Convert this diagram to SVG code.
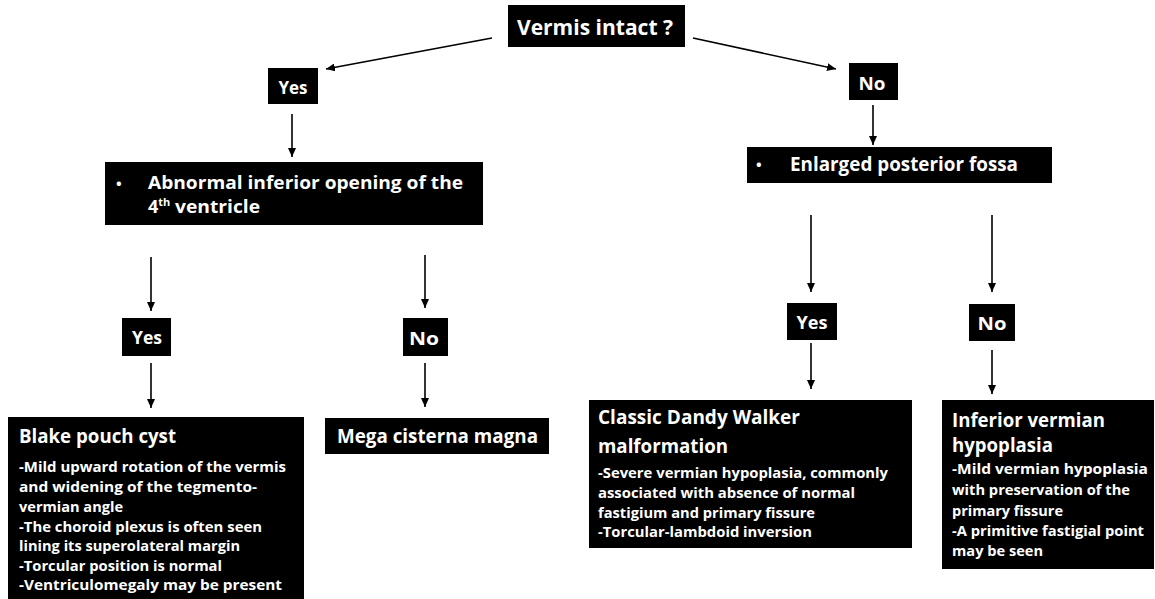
<svg xmlns="http://www.w3.org/2000/svg" width="1155" height="599" viewBox="0 0 1155 599">
<style>
.box{fill:#000}
text{font-family:"Open Sans",Lato,"Liberation Sans",sans-serif;font-weight:bold;fill:#fff}
.lbl{font-size:18px;text-anchor:middle}
.h{font-size:19.5px}
.h2{font-size:18px}
.b{font-size:15px}
.bul{font-size:15px}
.c{stroke:#000;stroke-width:1.6;fill:none;marker-end:url(#ah)}
</style>
<defs>
<marker id="ah" markerUnits="userSpaceOnUse" markerWidth="9" markerHeight="8" refX="9" refY="4" orient="auto">
<path d="M0,0 L9,4 L0,8 z" fill="#000"/>
</marker>
</defs>
<rect width="1155" height="599" fill="#fff"/>
<g id="connectors">
<line class="c" x1="492" y1="38" x2="326" y2="69"/>
<line class="c" x1="693" y1="38" x2="836" y2="69"/>
<line class="c" x1="292" y1="114" x2="292" y2="157"/>
<line class="c" x1="873" y1="105" x2="873" y2="145"/>
<line class="c" x1="151" y1="257" x2="151" y2="311"/>
<line class="c" x1="151" y1="363" x2="151" y2="408"/>
<line class="c" x1="425" y1="255" x2="425" y2="308"/>
<line class="c" x1="425" y1="363" x2="425" y2="407"/>
<line class="c" x1="811" y1="215" x2="811" y2="292"/>
<line class="c" x1="811" y1="343" x2="811" y2="389"/>
<line class="c" x1="992" y1="215" x2="992" y2="292"/>
<line class="c" x1="992" y1="350" x2="992" y2="394"/>
</g>
<g id="vermis">
<rect class="box" x="508" y="5" width="177" height="42"/>
<text x="517" y="35" font-size="20.5" textLength="156" lengthAdjust="spacingAndGlyphs">Vermis intact ?</text>
</g>
<g id="yes-top">
<rect class="box" x="268" y="68" width="50" height="36"/>
<text class="lbl" x="293" y="94" textLength="29" lengthAdjust="spacingAndGlyphs">Yes</text>
</g>
<g id="no-top">
<rect class="box" x="849" y="63" width="49" height="37"/>
<text class="lbl" x="872" y="90" textLength="27" lengthAdjust="spacingAndGlyphs">No</text>
</g>
<g id="abnormal">
<rect class="box" x="105" y="162" width="378" height="63"/>
<text x="116" y="189" class="bul">•</text>
<text x="148" y="189" class="h2" textLength="315" lengthAdjust="spacingAndGlyphs">Abnormal inferior opening of the</text>
<text x="148" y="213" class="h2">4<tspan font-size="11" dy="-7">th</tspan><tspan x="175" dy="7" textLength="85" lengthAdjust="spacingAndGlyphs">ventricle</tspan></text>
</g>
<g id="enlarged">
<rect class="box" x="747" y="147" width="305" height="36"/>
<text x="756" y="170" class="bul">•</text>
<text x="790" y="171" class="h" textLength="228" lengthAdjust="spacingAndGlyphs">Enlarged posterior fossa</text>
</g>
<g id="yes-left">
<rect class="box" x="122" y="318" width="49" height="38"/>
<text class="lbl" x="147" y="344" textLength="30" lengthAdjust="spacingAndGlyphs">Yes</text>
</g>
<g id="no-mid">
<rect class="box" x="403" y="318" width="45" height="38"/>
<text class="lbl" x="424" y="345" textLength="30" lengthAdjust="spacingAndGlyphs">No</text>
</g>
<g id="yes-right">
<rect class="box" x="787" y="303" width="50" height="37"/>
<text class="lbl" x="812" y="329" textLength="31" lengthAdjust="spacingAndGlyphs">Yes</text>
</g>
<g id="no-right">
<rect class="box" x="969" y="304" width="46" height="37"/>
<text class="lbl" x="992" y="330" textLength="29" lengthAdjust="spacingAndGlyphs">No</text>
</g>
<g id="blake">
<rect class="box" x="8" y="417" width="296" height="182"/>
<text x="19" y="443" class="h" textLength="157" lengthAdjust="spacingAndGlyphs">Blake pouch cyst</text>
<text x="19" y="472" class="b" textLength="267" lengthAdjust="spacingAndGlyphs">-Mild upward rotation of the vermis</text>
<text x="19" y="492" class="b" textLength="238" lengthAdjust="spacingAndGlyphs">and widening of the tegmento-</text>
<text x="19" y="512" class="b" textLength="104" lengthAdjust="spacingAndGlyphs">vermian angle</text>
<text x="19" y="532" class="b" textLength="243" lengthAdjust="spacingAndGlyphs">-The choroid plexus is often seen</text>
<text x="19" y="551" class="b" textLength="221" lengthAdjust="spacingAndGlyphs">lining its superolateral margin</text>
<text x="19" y="571" class="b" textLength="203" lengthAdjust="spacingAndGlyphs">-Torcular position is normal</text>
<text x="19" y="590" class="b" textLength="263" lengthAdjust="spacingAndGlyphs">-Ventriculomegaly may be present</text>
</g>
<g id="mega">
<rect class="box" x="325" y="418" width="224" height="36"/>
<text x="337" y="443" class="h" textLength="201" lengthAdjust="spacingAndGlyphs">Mega cisterna magna</text>
</g>
<g id="classic">
<rect class="box" x="589" y="400" width="323" height="148"/>
<text x="598" y="424" class="h" textLength="202" lengthAdjust="spacingAndGlyphs">Classic Dandy Walker</text>
<text x="598" y="453" class="h" textLength="130" lengthAdjust="spacingAndGlyphs">malformation</text>
<text x="598" y="478" class="b" textLength="290" lengthAdjust="spacingAndGlyphs">-Severe vermian hypoplasia, commonly</text>
<text x="598" y="498" class="b" textLength="257" lengthAdjust="spacingAndGlyphs">associated with absence of normal</text>
<text x="598" y="518" class="b" textLength="217" lengthAdjust="spacingAndGlyphs">fastigium and primary fissure</text>
<text x="598" y="537" class="b" textLength="214" lengthAdjust="spacingAndGlyphs">-Torcular-lambdoid inversion</text>
</g>
<g id="inferior">
<rect class="box" x="942" y="400" width="212" height="169"/>
<text x="952" y="427" class="h" textLength="153" lengthAdjust="spacingAndGlyphs">Inferior vermian</text>
<text x="952" y="452" class="h" textLength="101" lengthAdjust="spacingAndGlyphs">hypoplasia</text>
<text x="952" y="474" class="b" textLength="196" lengthAdjust="spacingAndGlyphs">-Mild vermian hypoplasia</text>
<text x="952" y="495" class="b" textLength="178" lengthAdjust="spacingAndGlyphs">with preservation of the</text>
<text x="952" y="516" class="b" textLength="111" lengthAdjust="spacingAndGlyphs">primary fissure</text>
<text x="952" y="536" class="b" textLength="192" lengthAdjust="spacingAndGlyphs">-A primitive fastigial point</text>
<text x="952" y="556" class="b" textLength="91" lengthAdjust="spacingAndGlyphs">may be seen</text>
</g>
</svg>
